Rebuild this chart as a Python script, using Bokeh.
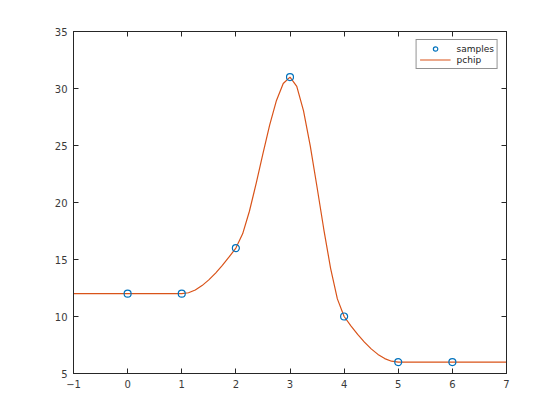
from bokeh.plotting import figure
from bokeh.models import Range1d, FixedTicker, LinearAxis, Legend, LegendItem
from bokeh.embed import file_html
from bokeh.resources import INLINE

# Sample points
x_samples = [0, 1, 2, 3, 4, 5, 6]
y_samples = [12, 12, 16, 31, 10, 6, 6]

# pchip curve values
curve_x = [-1, 0, 1,
           1.125, 1.25, 1.375, 1.5, 1.625, 1.75, 1.875, 2,
           2.125, 2.25, 2.375, 2.5, 2.625, 2.75, 2.875, 3,
           3.125, 3.25, 3.375, 3.5, 3.625, 3.75, 3.875, 4,
           4.125, 4.25, 4.375, 4.5, 4.625, 4.75, 4.875, 5,
           6, 7]
curve_y = [12, 12, 12,
           12.086, 12.329, 12.711, 13.211, 13.809, 14.487, 15.224, 16,
           17.249, 19.232, 21.671, 24.289, 26.809, 28.952, 30.442, 31,
           30.190, 28.034, 24.946, 21.34, 17.629, 14.226, 11.545, 10,
           9.185, 8.430, 7.750, 7.16, 6.675, 6.31, 6.080, 6,
           6, 6]

x_ticks = [-1, 0, 1, 2, 3, 4, 5, 6, 7]
y_ticks = [5, 10, 15, 20, 25, 30, 35]

AX = "#262626"
FONT = "DejaVu Sans"

p = figure(width=544, height=404, output_backend="svg", toolbar_location=None,
           x_range=Range1d(-1, 7), y_range=Range1d(5, 35),
           min_border_left=73, min_border_right=38, min_border_top=31, min_border_bottom=31,
           x_axis_location=None, y_axis_location=None)
p.grid.visible = False
p.outline_line_color = AX
p.outline_line_width = 1
p.background_fill_color = "white"
p.border_fill_color = "white"

def make_axis(ticks, show_labels):
    ax = LinearAxis(ticker=FixedTicker(ticks=ticks))
    ax.axis_line_color = AX
    ax.major_tick_line_color = AX
    ax.major_tick_in = 5
    ax.major_tick_out = 0
    ax.minor_tick_line_color = None
    ax.major_label_text_font = FONT
    ax.major_label_text_font_size = "10px" if show_labels else "0px"
    ax.major_label_text_color = "#3a3a3a" if show_labels else None
    ax.major_label_standoff = 6 if show_labels else 0
    return ax

p.add_layout(make_axis(x_ticks, True), "below")
p.add_layout(make_axis(y_ticks, True), "left")
p.add_layout(make_axis(x_ticks, False), "above")
p.add_layout(make_axis(y_ticks, False), "right")

r_curve = p.line(curve_x, curve_y, line_color="#D95319", line_width=1.2)
r_pts = p.scatter(x_samples, y_samples, marker="circle", size=7,
                  fill_color=None, line_color="#0072BD", line_width=1.2)

legend = Legend(items=[LegendItem(label="samples", renderers=[r_pts]),
                       LegendItem(label="pchip", renderers=[r_curve])],
                location="top_right")
legend.margin = 8
legend.padding = 3
legend.spacing = 0
legend.glyph_width = 31
legend.glyph_height = 11
legend.label_height = 11
legend.label_standoff = 6
legend.label_text_font = FONT
legend.label_text_font_size = "9px"
legend.label_text_color = "#222222"
legend.border_line_color = AX
legend.border_line_width = 1
legend.background_fill_color = "white"
legend.background_fill_alpha = 1
p.add_layout(legend, "center")

open("out.html", "w").write(file_html(p, INLINE))
